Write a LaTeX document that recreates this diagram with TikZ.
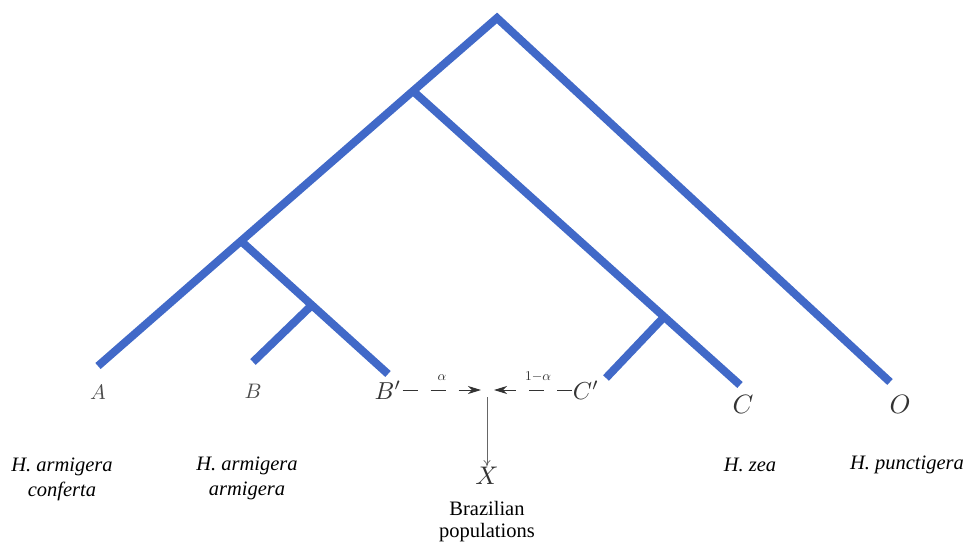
\documentclass[tikz,border=0pt]{standalone}
\usepackage{fontspec}
\setmainfont{Liberation Serif}
\usetikzlibrary{arrows.meta}
\definecolor{treeblue}{RGB}{65,105,200}
\begin{document}
\begin{tikzpicture}[x=1pt,y=-1pt,
  branch/.style={draw=treeblue,line width=8pt,line join=miter,line cap=butt},
  leaflab/.style={inner sep=1pt,text=black!80},
  species/.style={align=center,font=\fontsize{20.5}{25}\selectfont\itshape,inner sep=0pt},
  hyb/.style={dash pattern=on 15pt off 13pt,line width=0.9pt,draw=black!80,-{Stealth[length=13pt,width=8pt,inset=4pt]}},
  drop/.style={draw=black!60,line width=0.8pt,-{To[length=6pt,width=7pt]}}]
\useasboundingbox (0,0) rectangle (970,544);
% tree vertices
\coordinate (R) at (497,18);
\coordinate (N1) at (413,91);
\coordinate (N2) at (241,241);
\coordinate (N3) at (312,305);
\coordinate (N4) at (664,317);
\coordinate (Aend) at (98,366);
\coordinate (Bend) at (253,362);
\coordinate (Bpend) at (388,374);
\coordinate (Cpend) at (606,378);
\coordinate (Cend) at (740,385);
\coordinate (Oend) at (890,382);
% branches
\draw[branch] (Aend) -- (N2) -- (N1) -- (R) -- (Oend);
\draw[branch] (N1) -- (Cend);
\draw[branch] (N2) -- (Bpend);
\draw[branch] (N3) -- (Bend);
\draw[branch] (N4) -- (Cpend);
% leaf labels
\node[leaflab,text=black!70] (A) at (98,392) {\scalebox{2.1}{$A$}};
\node[leaflab,text=black!70] (B) at (253,391) {\scalebox{2.1}{$B$}};
\node[leaflab] (Bp) at (388,390) {\scalebox{2.45}{$B'$}};
\node[leaflab] (Cp) at (586,390) {\scalebox{2.45}{$C'$}};
\node[leaflab] (C) at (743,404) {\scalebox{2.65}{$C$}};
\node[leaflab] (O) at (900,404) {\scalebox{2.65}{$O$}};
\node[leaflab] (X) at (487,476) {\scalebox{2.55}{$X$}};
% hybridisation
\coordinate (ML) at (481,390);
\coordinate (MR) at (494,390);
\coordinate (Vtop) at (487,397);
\draw[hyb] (Bp.east) -- (ML);
\draw[hyb] (Cp.west) -- (MR);
\node[text=black!80,inner sep=0pt] (al) at (442,378) {\scalebox{1.35}{$\alpha$}};
\node[text=black!80,inner sep=0pt] (oma) at (538,377) {\scalebox{1.35}{$1{-}\alpha$}};
\draw[drop] (Vtop) -- (X.north);
% species names
\node[species] (sA) at (62,479) {H. armigera\\conferta};
\node[species] (sB) at (247,478) {H. armigera\\armigera};
\node[species] (sC) at (750,465) {H. zea};
\node[species] (sO) at (907,465) {H. punctigera};
\node[align=center,font=\fontsize{20.5}{22}\selectfont,inner sep=0pt] (br) at (487,522) {Brazilian\\populations};
\end{tikzpicture}
\end{document}
